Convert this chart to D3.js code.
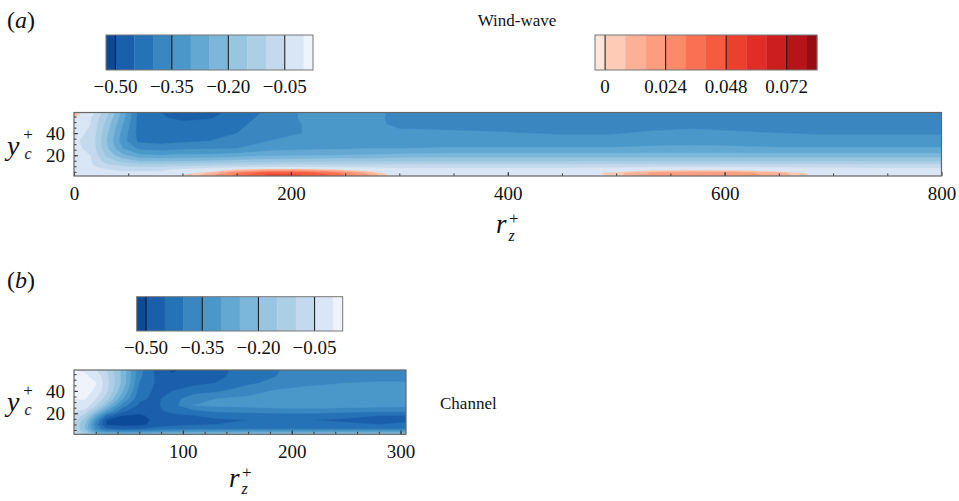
<!DOCTYPE html>
<html><head><meta charset="utf-8">
<script src="https://cdn.jsdelivr.net/npm/d3@7"></script>
<style>
body{margin:0;background:#fff}
svg{display:block}
text{font-family:"Liberation Serif","Times New Roman",serif;fill:#111}
</style>
</head><body>
<svg id="chart" width="959" height="501"></svg>
<script>
// ---------- colour bars ----------
const blueLevels = [-0.525,-0.5,-0.45,-0.4,-0.35,-0.3,-0.25,-0.2,-0.15,-0.1,-0.05,0,0.025];
const blueColors = ["#0b4a97","#1a5fa9","#2672b6","#3a86c1","#4a98ca","#62a8d3","#7cb7db","#98c6e1","#adcfe6","#c4d9ed","#d9e6f5","#eef3fc"];
const blueTicks = [-0.5,-0.35,-0.2,-0.05];
const redLevels = [-0.004,0,0.008,0.016,0.024,0.032,0.040,0.048,0.056,0.064,0.072,0.080,0.084];
const redColors = ["#fee5da","#fdcbb6","#fcb196","#fc9d81","#fb8a6b","#fa7052","#f45b3f","#ec3f2d","#e02d26","#cc1d1f","#b51418","#980b12"];
const redTicks = [0,0.024,0.048,0.072];

// ---------- panel (a) wind-wave ----------
const xTicksA = [0,200,400,600,800];
const yTicks = [20,40];
const rzA = [0,15,30,45,60,80,100,125,150,180,210,240,270,300,350,400,450,490,530,570,610,650,690,740,800];
const ycA = [0,2,4,7,10,14,20,26,33,40,48,54,59];
// each row: one rz column, values from bottom (yc=0) to top (yc=59)
const fieldA = [
 [-0.02,-0.02,-0.02,-0.025,-0.03,-0.035,-0.045,-0.045,-0.045,-0.04,-0.03,0.002,0.02],
 [-0.02,-0.02,-0.025,-0.03,-0.04,-0.045,-0.05,-0.055,-0.06,-0.055,-0.05,-0.045,-0.02],
 [-0.025,-0.03,-0.035,-0.05,-0.08,-0.12,-0.16,-0.19,-0.20,-0.19,-0.17,-0.15,-0.13],
 [-0.03,-0.035,-0.04,-0.06,-0.10,-0.16,-0.24,-0.30,-0.33,-0.32,-0.30,-0.28,-0.27],
 [-0.03,-0.035,-0.04,-0.065,-0.11,-0.19,-0.29,-0.36,-0.41,-0.42,-0.42,-0.42,-0.42],
 [-0.03,-0.035,-0.04,-0.06,-0.11,-0.19,-0.30,-0.37,-0.42,-0.43,-0.435,-0.445,-0.45],
 [-0.005,0.0,-0.01,-0.04,-0.10,-0.19,-0.29,-0.36,-0.41,-0.43,-0.44,-0.46,-0.47],
 [0.008,0.012,0.008,-0.02,-0.09,-0.18,-0.29,-0.355,-0.40,-0.42,-0.43,-0.455,-0.47],
 [0.025,0.035,0.03,0.0,-0.08,-0.17,-0.28,-0.35,-0.38,-0.40,-0.41,-0.42,-0.43],
 [0.035,0.05,0.045,0.01,-0.07,-0.16,-0.26,-0.32,-0.35,-0.37,-0.38,-0.385,-0.39],
 [0.034,0.048,0.044,0.01,-0.07,-0.155,-0.255,-0.31,-0.34,-0.35,-0.35,-0.345,-0.345],
 [0.024,0.038,0.034,0.0,-0.07,-0.15,-0.25,-0.305,-0.335,-0.345,-0.345,-0.34,-0.335],
 [0.008,0.018,0.014,-0.015,-0.07,-0.15,-0.245,-0.30,-0.33,-0.342,-0.342,-0.34,-0.335],
 [-0.015,-0.01,-0.015,-0.035,-0.065,-0.145,-0.235,-0.30,-0.33,-0.345,-0.355,-0.358,-0.36],
 [-0.02,-0.025,-0.03,-0.035,-0.065,-0.145,-0.23,-0.295,-0.325,-0.345,-0.36,-0.37,-0.375],
 [-0.02,-0.025,-0.03,-0.035,-0.065,-0.145,-0.23,-0.295,-0.325,-0.348,-0.365,-0.375,-0.38],
 [-0.02,-0.025,-0.03,-0.035,-0.065,-0.145,-0.23,-0.295,-0.33,-0.355,-0.37,-0.38,-0.385],
 [-0.01,0.002,0.002,-0.03,-0.065,-0.145,-0.23,-0.295,-0.33,-0.355,-0.37,-0.38,-0.385],
 [0.0,0.016,0.016,-0.01,-0.065,-0.145,-0.23,-0.29,-0.32,-0.345,-0.365,-0.375,-0.38],
 [0.002,0.021,0.02,-0.005,-0.065,-0.145,-0.23,-0.29,-0.315,-0.34,-0.36,-0.375,-0.38],
 [0.002,0.02,0.019,-0.008,-0.065,-0.145,-0.23,-0.29,-0.32,-0.345,-0.365,-0.375,-0.38],
 [-0.005,0.013,0.011,-0.02,-0.065,-0.145,-0.23,-0.295,-0.325,-0.35,-0.37,-0.38,-0.385],
 [-0.02,-0.006,-0.008,-0.03,-0.065,-0.145,-0.23,-0.295,-0.33,-0.355,-0.37,-0.38,-0.385],
 [-0.02,-0.025,-0.03,-0.035,-0.065,-0.145,-0.23,-0.295,-0.33,-0.355,-0.37,-0.38,-0.385],
 [-0.02,-0.025,-0.03,-0.035,-0.065,-0.145,-0.23,-0.295,-0.33,-0.355,-0.37,-0.38,-0.385]
];

// ---------- panel (b) channel ----------
const xTicksB = [100,200,300];
const rzB = [0,10,20,30,45,60,75,90,110,130,160,190,220,250,280,305];
const ycB = [1,3,6,10,14,18,22,27,33,40,47,53,59];
const fieldB = [
 [-0.05,-0.08,-0.10,-0.10,-0.08,-0.06,-0.04,-0.005,0.0,0.008,0.01,0.005,0.0],
 [-0.09,-0.16,-0.20,-0.20,-0.17,-0.12,-0.07,-0.01,0.002,0.01,0.012,0.005,-0.005],
 [-0.15,-0.28,-0.36,-0.38,-0.34,-0.27,-0.18,-0.10,-0.05,-0.005,0.002,-0.01,-0.05],
 [-0.17,-0.32,-0.44,-0.505,-0.50,-0.42,-0.31,-0.21,-0.13,-0.09,-0.08,-0.09,-0.10],
 [-0.17,-0.33,-0.46,-0.52,-0.52,-0.50,-0.44,-0.38,-0.30,-0.25,-0.22,-0.22,-0.22],
 [-0.17,-0.33,-0.45,-0.515,-0.52,-0.51,-0.48,-0.46,-0.44,-0.42,-0.40,-0.39,-0.38],
 [-0.16,-0.31,-0.43,-0.48,-0.49,-0.48,-0.46,-0.46,-0.46,-0.46,-0.455,-0.455,-0.46],
 [-0.15,-0.30,-0.42,-0.465,-0.47,-0.46,-0.44,-0.42,-0.43,-0.45,-0.46,-0.49,-0.51],
 [-0.14,-0.29,-0.41,-0.455,-0.46,-0.45,-0.41,-0.35,-0.36,-0.43,-0.46,-0.47,-0.48],
 [-0.14,-0.29,-0.41,-0.45,-0.455,-0.44,-0.39,-0.34,-0.35,-0.41,-0.45,-0.46,-0.465],
 [-0.13,-0.28,-0.40,-0.45,-0.45,-0.43,-0.38,-0.335,-0.34,-0.37,-0.41,-0.43,-0.43],
 [-0.13,-0.28,-0.40,-0.445,-0.45,-0.43,-0.37,-0.33,-0.325,-0.34,-0.38,-0.395,-0.40],
 [-0.13,-0.28,-0.40,-0.44,-0.45,-0.43,-0.37,-0.325,-0.32,-0.33,-0.36,-0.38,-0.385],
 [-0.13,-0.28,-0.40,-0.445,-0.455,-0.44,-0.38,-0.33,-0.315,-0.325,-0.35,-0.375,-0.38],
 [-0.13,-0.28,-0.40,-0.45,-0.46,-0.45,-0.39,-0.33,-0.315,-0.32,-0.345,-0.37,-0.38],
 [-0.13,-0.28,-0.40,-0.445,-0.455,-0.45,-0.39,-0.335,-0.315,-0.32,-0.345,-0.37,-0.38]
];

// ---------- drawing ----------
const svg = d3.select("#chart");
const defs = svg.append("defs");
const fmtBlue = d3.format(".2f");
const fmtRed = d => d === 0 ? "0" : d3.format(".3f")(d);

function colorbar(x0, x1, y0, y1, levels, colors, ticks, fmt) {
  const s = d3.scaleLinear().domain([levels[0], levels[levels.length-1]]).range([x0, x1]);
  const g = svg.append("g");
  g.selectAll("rect.seg").data(colors).join("rect")
    .attr("x", (d,i) => s(levels[i])).attr("width", (d,i) => s(levels[i+1]) - s(levels[i]) + 0.3)
    .attr("y", y0).attr("height", y1 - y0).attr("fill", d => d);
  g.selectAll("line.tk").data(ticks).join("line")
    .attr("x1", d => s(d)).attr("x2", d => s(d)).attr("y1", y0).attr("y2", y1)
    .attr("stroke", "#111").attr("stroke-width", 1);
  g.append("rect").attr("x", x0).attr("y", y0).attr("width", x1 - x0).attr("height", y1 - y0)
    .attr("fill", "none").attr("stroke", "#777").attr("stroke-width", 1);
  g.selectAll("text").data(ticks).join("text")
    .attr("x", d => s(d)).attr("y", y1 + 22.5).attr("text-anchor", "middle")
    .attr("font-size", 19).text(fmt);
}

function panel(id, rz, yc, field, bands, box, xDom, xMajor, xMinor) {
  const x = d3.scaleLinear().domain(xDom).range([box.x0, box.x1]);
  const y = d3.scaleLinear().domain([1.2, 58.7]).range([box.y1, box.y0]);
  defs.append("clipPath").attr("id", id).append("rect")
    .attr("x", box.x0).attr("y", box.y0).attr("width", box.x1 - box.x0).attr("height", box.y1 - box.y0);
  const nx = rz.length, ny = yc.length;
  const vals = new Array(nx * ny);
  for (let j = 0; j < ny; j++) for (let i = 0; i < nx; i++) vals[j * nx + i] = field[i][j];
  const gx = d3.scaleLinear().domain(d3.range(nx)).range(rz);
  const gy = d3.scaleLinear().domain(d3.range(ny)).range(yc);
  const tr = d3.geoTransform({ point(px, py) { this.stream.point(x(gx(px - 0.5)), y(gy(py - 0.5))); } });
  const path = d3.geoPath(tr);
  const cs = d3.contours().size([nx, ny]).thresholds(bands.map(b => b.t))(vals);
  const g = svg.append("g").attr("clip-path", `url(#${id})`);
  g.selectAll("path").data(cs).join("path")
    .attr("d", path).attr("fill", (d, i) => bands[i].c)
    .attr("stroke", (d, i) => bands[i].c).attr("stroke-width", 0.4);

  // axes
  const ax = svg.append("g").attr("transform", `translate(0,${box.y1})`);
  ax.call(d3.axisBottom(x).tickValues(xMinor).tickSize(-2.5).tickFormat(""));
  ax.call(g2 => g2.select(".domain").remove());
  const ax2 = svg.append("g").attr("transform", `translate(0,${box.y1})`);
  ax2.call(d3.axisBottom(x).tickValues(xMajor).tickSizeInner(-4).tickSizeOuter(0).tickPadding(10.5).tickFormat(d3.format("d")));
  ax2.select(".domain").remove();
  const ay = svg.append("g").attr("transform", `translate(${box.x0},0)`);
  ay.call(d3.axisLeft(y).tickValues(d3.range(5, 58, 5)).tickSize(-2.5).tickFormat(""));
  ay.select(".domain").remove();
  const ay2 = svg.append("g").attr("transform", `translate(${box.x0},0)`);
  ay2.call(d3.axisLeft(y).tickValues(yTicks).tickSizeInner(-4).tickSizeOuter(0).tickPadding(9).tickFormat(d3.format("d")));
  ay2.select(".domain").remove();
  svg.selectAll(".tick line").attr("stroke", "#333");
  svg.selectAll(".tick text").attr("font-size", 19).attr("font-family", "Liberation Serif, serif").attr("fill", "#111");
  svg.append("rect").attr("x", box.x0).attr("y", box.y0).attr("width", box.x1 - box.x0).attr("height", box.y1 - box.y0)
    .attr("fill", "none").attr("stroke", "#666").attr("stroke-width", 1.2);
}

// bands (a): blue for negative, red for positive
const bandsA = [{t: -1, c: blueColors[0]}]
  .concat(blueLevels.slice(1, 11).map((t, i) => ({t, c: blueColors[i + 1]})))
  .concat(redLevels.slice(1, 12).map((t, i) => ({t, c: redColors[i + 1]})));
const bandsB = [{t: -1, c: blueColors[0]}]
  .concat(blueLevels.slice(1, 12).map((t, i) => ({t, c: blueColors[i + 1]})));

colorbar(106, 313, 35, 70, blueLevels, blueColors, blueTicks, fmtBlue);
colorbar(595, 817, 35, 70, redLevels, redColors, redTicks, fmtRed);
colorbar(136.7, 342.7, 296.7, 331, blueLevels, blueColors, blueTicks, fmtBlue);

panel("clipA", rzA, ycA, fieldA, bandsA, {x0: 74, x1: 941.5, y0: 112.5, y1: 176}, [0, 800], xTicksA, d3.range(50, 800, 50));
panel("clipB", rzB, ycB, fieldB, bandsB, {x0: 74, x1: 406, y0: 370, y1: 434.3}, [0, 305], xTicksB, d3.range(20, 305, 20));

// labels
function panelLabel(x, y, letter) {
  const t = svg.append("text").attr("x", x).attr("y", y).attr("font-size", 24);
  t.append("tspan").text("(");
  t.append("tspan").attr("font-style", "italic").text(letter);
  t.append("tspan").text(")");
}
panelLabel(7, 28, "a");
panelLabel(7, 288, "b");

svg.append("text").attr("x", 517).attr("y", 26).attr("text-anchor", "middle").attr("font-size", 17).text("Wind-wave");
svg.append("text").attr("x", 440).attr("y", 409).attr("font-size", 17).text("Channel");

// y_c^+ as one text element
function yLabel(x, yb) {
  const t = svg.append("text").attr("x", x).attr("y", yb);
  t.append("tspan").attr("font-size", 28).attr("font-style", "italic").text("y");
  t.append("tspan").attr("font-size", 16).attr("font-style", "italic").attr("dx", 5).attr("dy", 4).text("c");
  t.append("tspan").attr("font-size", 17).attr("dx", -8.4).attr("dy", -19).text("+");
}
yLabel(7, 155);
yLabel(7, 411);

// r_z^+ as one text element
function xLabel(x, yb) {
  const t = svg.append("text").attr("x", x).attr("y", yb);
  t.append("tspan").attr("font-size", 27).attr("font-style", "italic").text("r");
  t.append("tspan").attr("font-size", 16).attr("font-style", "italic").attr("dx", 2).attr("dy", 7.5).text("z");
  t.append("tspan").attr("font-size", 17).attr("dx", -5.7).attr("dy", -16.5).text("+");
}
xLabel(496, 233);
xLabel(229, 486.5);
</script>
</body></html>
